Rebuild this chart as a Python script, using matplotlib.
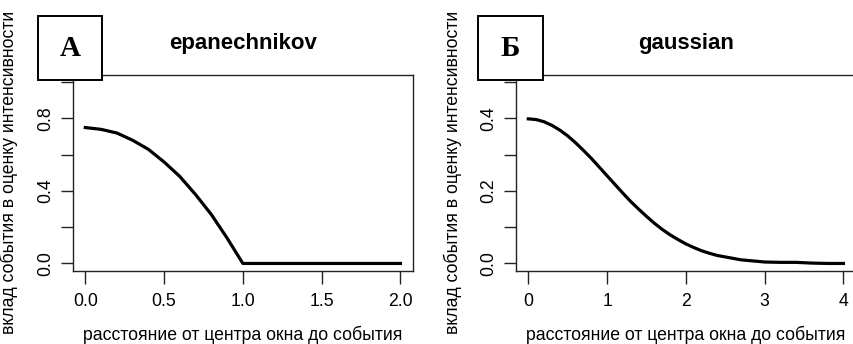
import matplotlib.pyplot as plt
import matplotlib.patches as patches

plt.rcParams['font.family'] = ['Liberation Sans', 'DejaVu Sans']

# kernel values
epa_x = [0.0, 0.1, 0.2, 0.3, 0.4, 0.5, 0.6, 0.7, 0.8, 0.9, 1.0,
         1.1, 1.2, 1.3, 1.4, 1.5, 1.6, 1.7, 1.8, 1.9, 2.0]
epa_y = [0.75, 0.74, 0.72, 0.68, 0.63, 0.56, 0.48, 0.38, 0.27, 0.14, 0.0,
         0.0, 0.0, 0.0, 0.0, 0.0, 0.0, 0.0, 0.0, 0.0, 0.0]

gau_x = [0.0, 0.1, 0.2, 0.3, 0.4, 0.5, 0.6, 0.7, 0.8, 0.9, 1.0,
         1.1, 1.2, 1.3, 1.4, 1.5, 1.6, 1.7, 1.8, 1.9, 2.0,
         2.1, 2.2, 2.3, 2.4, 2.5, 2.6, 2.7, 2.8, 2.9, 3.0,
         3.2, 3.4, 3.6, 3.8, 4.0]
gau_y = [0.399, 0.397, 0.391, 0.381, 0.368, 0.352, 0.333, 0.312, 0.290, 0.266, 0.242,
         0.218, 0.194, 0.171, 0.150, 0.130, 0.111, 0.094, 0.079, 0.066, 0.054,
         0.044, 0.035, 0.028, 0.022, 0.018, 0.014, 0.010, 0.008, 0.006, 0.004,
         0.003, 0.003, 0.001, 0.0, 0.0]

xlab = 'расстояние от центра окна до события'
ylab = 'вклад события в оценку интенсивности'

panels = [
    dict(x=epa_x, y=epa_y, title='epanechnikov', tag='A',
         xlim=(-0.08, 2.08), ylim=(-0.04, 1.04),
         xticks=[0.0, 0.5, 1.0, 1.5, 2.0], xlabels=['0.0', '0.5', '1.0', '1.5', '2.0'],
         yticks=[0.0, 0.2, 0.4, 0.6, 0.8, 1.0], ylabels=['0.0', '', '0.4', '', '0.8', '']),
    dict(x=gau_x, y=gau_y, title='gaussian', tag='Б',
         xlim=(-0.16, 4.16), ylim=(-0.02, 0.52),
         xticks=[0, 1, 2, 3, 4], xlabels=['0', '1', '2', '3', '4'],
         yticks=[0.0, 0.1, 0.2, 0.3, 0.4, 0.5], ylabels=['0.0', '', '0.2', '', '0.4', '']),
]

W, H = 854, 344
fig = plt.figure(figsize=(W / 100, H / 100), dpi=100)

# pixel positions of the plot frames: left, top, right, bottom
frames = [(72.7, 75, 413, 270.7), (515.7, 75, 856, 270.7)]
tagboxes = [(38, 16, 102, 80), (478, 16, 542.7, 80)]
ylab_x = [9, 453]

for p, (l, t, r, b), (bl, bt, br, bb), yx in zip(panels, frames, tagboxes, ylab_x):
    ax = fig.add_axes([l / W, 1 - b / H, (r - l) / W, (b - t) / H])
    ax.plot(p['x'], p['y'], color='black', lw=2.3)
    ax.set_xlim(p['xlim'])
    ax.set_ylim(p['ylim'])
    ax.set_xticks(p['xticks'])
    ax.set_xticklabels(p['xlabels'])
    ax.set_yticks(p['yticks'])
    ax.set_yticklabels(p['ylabels'], rotation=90, va='center')
    ax.tick_params(axis='both', length=9, width=1, labelsize=12.7, color='#222222')
    ax.tick_params(axis='x', pad=7)
    ax.tick_params(axis='y', pad=4)
    for s in ax.spines.values():
        s.set_linewidth(1)
        s.set_color('#222222')

    ax.set_xlabel(xlab, fontsize=12.7)
    ax.xaxis.label.set_va('center')
    ax.xaxis.set_label_coords(0.5, (b - 335) / (b - t))
    ax.set_ylabel(ylab, fontsize=12.7)
    ax.yaxis.label.set_va('center')
    ax.yaxis.set_label_coords((yx - l) / (r - l), 0.5)

    fig.text((l + r) / 2 / W, 1 - 43 / H, p['title'], fontsize=16, fontweight='bold',
             ha='center', va='center')

    rect = patches.Rectangle((bl / W, 1 - bb / H), (br - bl) / W, (bb - bt) / H,
                             transform=fig.transFigure, facecolor='white',
                             edgecolor='black', lw=1.4, zorder=5)
    fig.add_artist(rect)
    fig.text((bl + br) / 2 / W, 1 - (bt + bb) / 2 / H, p['tag'], fontsize=21,
             fontweight='bold', family=['Liberation Serif', 'DejaVu Serif'],
             ha='center', va='center', zorder=6)

fig.savefig('out.png', dpi=100)
